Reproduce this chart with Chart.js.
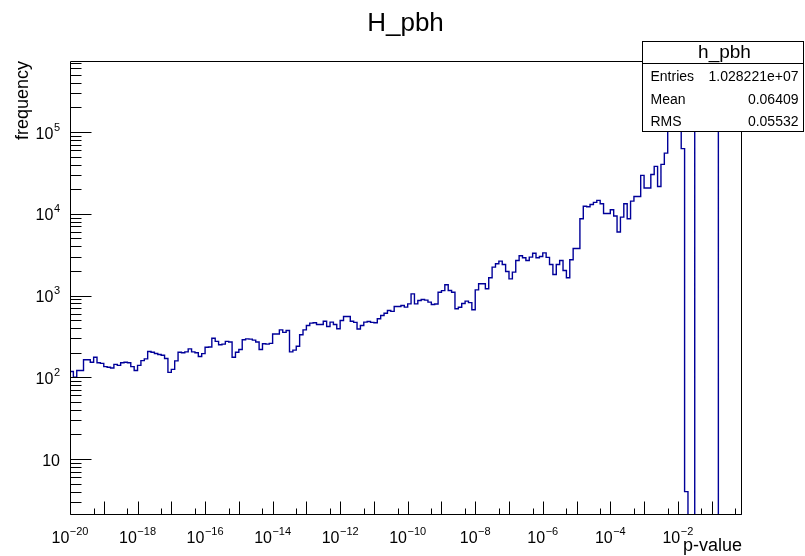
<!DOCTYPE html>
<html>
<head>
<meta charset="utf-8">
<title>H_pbh</title>
<script src="https://cdn.jsdelivr.net/npm/chart.js@4.4.1/dist/chart.umd.min.js"></script>
<style>
  html, body { margin: 0; padding: 0; background: #ffffff; }
  #wrap { position: relative; width: 805px; height: 556px; }
</style>
</head>
<body>
<div id="wrap"><canvas id="hist" width="805" height="556"></canvas></div>
<script>
// ---- histogram h_pbh: 199 bins, 0.1 decade wide, from 1e-20 up to 10^-0.1 ----
const LOG_X_MIN = -20;
const LOG_X_MAX = -0.1;
const BIN_WIDTH = 0.1;

// y-axis range (log scale)
const Y_MIN = 2.07;
const Y_MAX = 7.4e5;

// bin contents, left to right
const counts = [
  118, 118, 100, 121, 121, 164, 164, 153, 176, 151,
  148, 135, 133, 130, 144, 140, 151, 153, 151, 135,
  121, 140, 160, 168, 207, 203, 196, 190, 186, 170,
  115, 125, 159, 203, 200, 205, 223, 205, 200, 180,
  195, 233, 235, 301, 275, 250, 255, 275, 270, 176,
  203, 219, 288, 295, 293, 285, 270, 219, 257, 255,
  260, 339, 339, 380, 355, 374, 205, 215, 240, 332,
  381, 430, 460, 465, 443, 443, 486, 419, 473, 443,
  392, 496, 555, 555, 486, 470, 390, 430, 473, 482,
  470, 465, 520, 570, 609, 657, 640, 735, 735, 757,
  722, 792, 1050, 792, 871, 896, 880, 832, 778, 790,
  1100, 1150, 1355, 1155, 1100, 689, 720, 800, 855, 820,
  670, 1175, 1393, 1393, 1210, 1650, 2230, 2450, 2640, 2400,
  1970, 1600, 1935, 2690, 3070, 2900, 2690, 2950, 3300, 2900,
  3000, 3330, 2930, 2400, 1810, 2400, 2690, 2030, 1650, 2740,
  3770, 3770, 8700, 12400, 12200, 13000, 13800, 14600, 13300, 10100,
  10100, 11200, 9400, 6000, 9100, 13300, 8700, 14300, 16300, 16300,
  29500, 20700, 20700, 30300, 38000, 21600, 40300, 55300, 148000, 205000,
  262000, 176000, 62700, 4, 0, 0, 2210000, 2030000, 1710000, 1390000,
  1120000, 960000, 810000, 0, 0, 0, 0, 0, 0
];

// axis decorations
const xMajorExponents = [-20, -19, -18, -17, -16, -15, -14, -13, -12, -11, -10, -9, -8, -7, -6, -5, -4, -3, -2, -1];
const xLabelExponents = [-20, -18, -16, -14, -12, -10, -8, -6, -4, -2];
const yMajorExponents = [1, 2, 3, 4, 5];
const yMinorDecades = [0, 1, 2, 3, 4, 5];

// texts
const chartTitle = 'H_pbh';
const xTitle = 'p-value';
const yTitle = 'frequency';
const statTitle = 'h_pbh';
const statNames = ['Entries', 'Mean', 'RMS'];
const statValues = ['1.028221e+07', '0.06409', '0.05532'];

const FONT = '"Liberation Sans", Arial, Helvetica, sans-serif';
const LINE_COLOR = '#000099';

// step outline: one point per left bin edge, closed by the last right edge
const stepPoints = counts.map((c, i) => ({
  x: Math.pow(10, LOG_X_MIN + i * BIN_WIDTH),
  y: c > 0 ? c : Y_MIN          // empty bins sit on the axis, as on a log plot
}));
stepPoints.push({
  x: Math.pow(10, LOG_X_MIN + counts.length * BIN_WIDTH),
  y: counts[counts.length - 1] > 0 ? counts[counts.length - 1] : Y_MIN
});

function supText(exp) {
  return exp < 0 ? '\u2212' + Math.abs(exp) : String(exp);
}

// draws "10" with a raised exponent; anchor is 'center' or 'right'
function drawPower(ctx, exp, ax, baseline, anchor, showExp) {
  ctx.font = '16px ' + FONT;
  const w10 = ctx.measureText('10').width;
  let wExp = 0, es = '';
  if (showExp) {
    es = supText(exp);
    ctx.font = '11px ' + FONT;
    wExp = ctx.measureText(es).width;
  }
  const total = w10 + wExp + (showExp ? 0.5 : 0);
  const x0 = anchor === 'center' ? ax - total / 2 : ax - total;
  ctx.textAlign = 'left';
  ctx.textBaseline = 'alphabetic';
  ctx.font = '16px ' + FONT;
  ctx.fillText('10', x0, baseline);
  if (showExp) {
    ctx.font = '11px ' + FONT;
    ctx.fillText(es, x0 + w10 + 0.5, baseline - 8);
  }
}

const rootFrame = {
  id: 'rootFrame',
  afterDatasetsDraw(chart) {
    const ctx = chart.ctx;
    const a = chart.chartArea;
    const xs = chart.scales.x;
    const ys = chart.scales.y;
    const L = Math.round(a.left) + 0.5;
    const R = Math.round(a.right) - 0.5;
    const T = Math.round(a.top) + 0.5;
    const B = Math.round(a.bottom) - 0.5;

    ctx.save();
    ctx.strokeStyle = '#000000';
    ctx.fillStyle = '#000000';
    ctx.lineWidth = 1;

    // frame
    ctx.beginPath();
    ctx.rect(L, T, R - L, B - T);
    ctx.stroke();

    // x ticks (drawn inward)
    ctx.beginPath();
    xMajorExponents.forEach(e => {
      const px = Math.round(xs.getPixelForValue(Math.pow(10, e))) + 0.5;
      ctx.moveTo(px, B); ctx.lineTo(px, B - 13);
      const pm = Math.round(xs.getPixelForValue(5 * Math.pow(10, e))) + 0.5;
      if (pm < R) { ctx.moveTo(pm, B); ctx.lineTo(pm, B - 6); }
    });
    // y ticks
    yMajorExponents.forEach(e => {
      const py = Math.round(ys.getPixelForValue(Math.pow(10, e))) + 0.5;
      ctx.moveTo(L, py); ctx.lineTo(L + 21, py);
    });
    yMinorDecades.forEach(e => {
      for (let k = 2; k <= 9; k++) {
        const v = k * Math.pow(10, e);
        if (v <= Y_MIN || v >= Y_MAX) continue;
        const py = Math.round(ys.getPixelForValue(v)) + 0.5;
        ctx.moveTo(L, py); ctx.lineTo(L + 11, py);
      }
    });
    ctx.stroke();

    // tick labels
    xLabelExponents.forEach(e => {
      const px = xs.getPixelForValue(Math.pow(10, e));
      drawPower(ctx, e, px, 543, 'center', true);
    });
    yMajorExponents.forEach(e => {
      const py = ys.getPixelForValue(Math.pow(10, e));
      drawPower(ctx, e, 60, py + 6.5, 'right', e !== 1);
    });

    // axis titles
    ctx.font = '18px ' + FONT;
    ctx.textAlign = 'right';
    ctx.textBaseline = 'alphabetic';
    ctx.fillText(xTitle, a.right, 551);
    ctx.save();
    ctx.translate(28, a.top);
    ctx.rotate(-Math.PI / 2);
    ctx.textAlign = 'right';
    ctx.fillText(yTitle, 0, 0);
    ctx.restore();

    // histogram title
    ctx.font = '26px ' + FONT;
    ctx.textAlign = 'center';
    ctx.fillText(chartTitle, 405.5, 31);

    // statistics box
    const bx = 642.5, by = 41.5, bw = 161, bh = 90;
    ctx.fillStyle = '#ffffff';
    ctx.fillRect(bx, by, bw, bh);
    ctx.strokeStyle = '#000000';
    ctx.strokeRect(bx, by, bw, bh);
    ctx.beginPath();
    ctx.moveTo(bx, 63.5); ctx.lineTo(bx + bw, 63.5);
    ctx.stroke();
    ctx.fillStyle = '#000000';
    ctx.font = '19px ' + FONT;
    ctx.textAlign = 'center';
    ctx.fillText(statTitle, 724.5, 58);
    ctx.font = '14px ' + FONT;
    const rowBase = [81, 104, 126];
    statNames.forEach((n, i) => {
      ctx.textAlign = 'left';
      ctx.fillText(n, 650.5, rowBase[i]);
      ctx.textAlign = 'right';
      ctx.fillText(statValues[i], 798.5, rowBase[i]);
    });
    ctx.restore();
  }
};

new Chart(document.getElementById('hist'), {
  type: 'line',
  data: {
    datasets: [{
      label: statTitle,
      data: stepPoints,
      stepped: 'after',
      borderColor: LINE_COLOR,
      borderWidth: 1.4,
      pointRadius: 0,
      fill: false,
      tension: 0
    }]
  },
  options: {
    responsive: false,
    animation: false,
    devicePixelRatio: 1,
    events: [],
    layout: { padding: { left: 70, top: 61, right: 63, bottom: 41 } },
    scales: {
      x: { type: 'logarithmic', min: Math.pow(10, LOG_X_MIN), max: Math.pow(10, LOG_X_MAX), display: false },
      y: { type: 'logarithmic', min: Y_MIN, max: Y_MAX, display: false }
    },
    plugins: {
      legend: { display: false },
      tooltip: { enabled: false },
      title: { display: false }
    }
  },
  plugins: [rootFrame]
});
</script>
</body>
</html>
